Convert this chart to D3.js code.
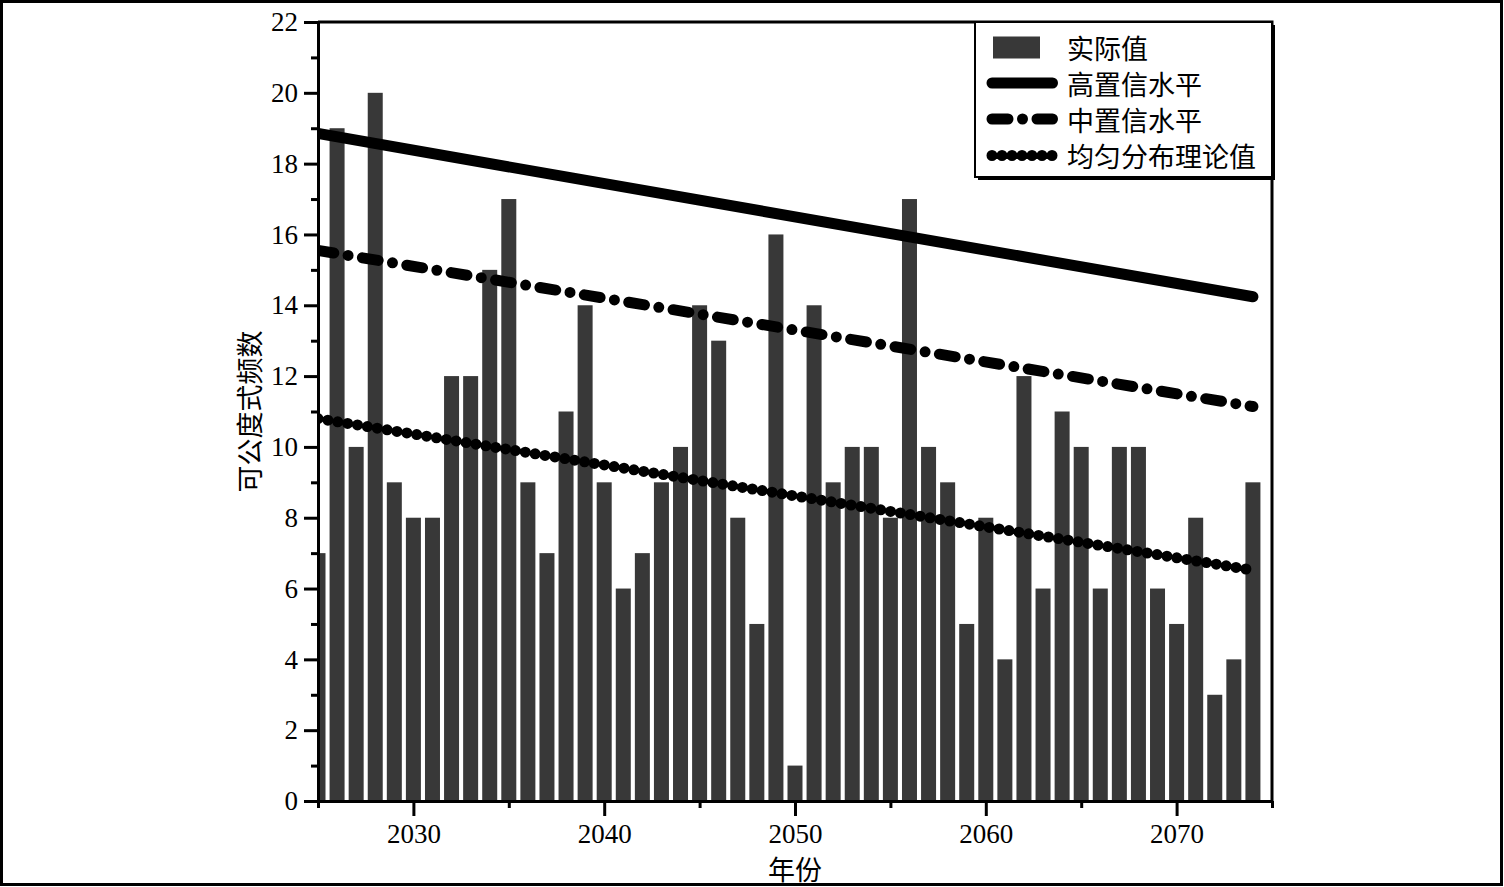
<!DOCTYPE html>
<html>
<head>
<meta charset="utf-8">
<script src="https://cdn.jsdelivr.net/npm/d3@7"></script>
<style>
  body { margin: 0; background: #fff; }
  text { font-family: "Liberation Serif", "Noto Sans CJK SC", serif; fill: #000; }
  .cjk { font-family: "Noto Sans CJK SC", sans-serif; }
</style>
</head>
<body>
<div id="chart"></div>
<script>
// DATA
const years = d3.range(2025, 2075);
const counts = [7, 19, 10, 20, 9, 8, 8, 12, 12, 15,
                17, 9, 7, 11, 14, 9, 6, 7, 9, 10,
                14, 13, 8, 5, 16, 1, 14, 9, 10, 10,
                8, 17, 10, 9, 5, 8, 4, 12, 6, 11,
                10, 6, 10, 10, 6, 5, 8, 3, 4, 9];
const lineYears = [2025, 2074];
const highLevel = [18.85, 14.24];
const midLevel = [15.55, 11.14];
const uniformLevel = [10.8, 6.52];
const yTicks = d3.range(0, 23, 2);
const yMinor = d3.range(1, 23, 2);
const xTicks = [2030, 2040, 2050, 2060, 2070];
const xMinor = [2025, 2035, 2045, 2055, 2065, 2075];
const legendLabels = ["实际值", "高置信水平", "中置信水平", "均匀分布理论值"];

const W = 1504, H = 887;
const margin = { top: 22, right: 232, bottom: 86, left: 318 };
const barColor = "#383838";

const svg = d3.select("#chart").append("svg")
    .attr("width", W)
    .attr("height", H);

// outer frame
svg.append("rect")
    .attr("x", 1.5).attr("y", 1.5)
    .attr("width", W - 4).attr("height", H - 4)
    .attr("fill", "#fff")
    .attr("stroke", "#000")
    .attr("stroke-width", 3);

const x = d3.scaleLinear().domain([2025, 2075]).range([margin.left, W - margin.right]);
const y = d3.scaleLinear().domain([0, 22]).range([H - margin.bottom, margin.top]);

svg.append("clipPath").attr("id", "plot-clip")
    .append("rect")
    .attr("x", x(2025)).attr("y", y(22))
    .attr("width", x(2075) - x(2025)).attr("height", y(0) - y(22));

const plot = svg.append("g").attr("clip-path", "url(#plot-clip)");

// bars
const barW = 15;
plot.selectAll("rect.bar")
    .data(years.map((yr, i) => ({ year: yr, value: counts[i] })))
    .join("rect")
    .attr("class", "bar")
    .attr("x", d => x(d.year) - barW / 2)
    .attr("y", d => y(d.value))
    .attr("width", barW)
    .attr("height", d => y(0) - y(d.value))
    .attr("fill", barColor);

// reference lines
const line = d3.line().x(d => x(d[0])).y(d => y(d[1]));
const series = [
    { vals: highLevel, dash: null },
    { vals: midLevel, dash: "16,14.5,0,14.5" },
    { vals: uniformLevel, dash: "0,10" }
];
series.forEach(s => {
    plot.append("path")
        .datum(lineYears.map((yr, i) => [yr, s.vals[i]]))
        .attr("d", line)
        .attr("fill", "none")
        .attr("stroke", "#000")
        .attr("stroke-width", 11)
        .attr("stroke-linecap", "round")
        .attr("stroke-dasharray", s.dash);
});

// axes
function styleAxis(g) {
    g.selectAll("path.domain").attr("stroke-width", 3);
    g.selectAll(".tick line").attr("stroke-width", 3);
    g.selectAll(".tick text").attr("font-size", 27).attr("font-family", "Liberation Serif");
}

svg.append("g")
    .attr("transform", `translate(${x(2025)},0)`)
    .call(d3.axisLeft(y).tickValues(yMinor).tickSize(7).tickSizeOuter(0).tickFormat(""))
    .call(styleAxis);
svg.append("g")
    .attr("transform", `translate(${x(2025)},0)`)
    .call(d3.axisLeft(y).tickValues(yTicks).tickSize(14).tickSizeOuter(0).tickPadding(6))
    .call(styleAxis);

svg.append("g")
    .attr("transform", `translate(0,${y(0)})`)
    .call(d3.axisBottom(x).tickValues(xMinor).tickSize(7).tickSizeOuter(0).tickFormat(""))
    .call(styleAxis);
svg.append("g")
    .attr("transform", `translate(0,${y(0)})`)
    .call(d3.axisBottom(x).tickValues(xTicks).tickSize(15).tickSizeOuter(0).tickPadding(8).tickFormat(d3.format("d")))
    .call(styleAxis);

// top and right frame
svg.append("path")
    .attr("d", `M${x(2025)},${y(22)}H${x(2075)}V${y(0)}`)
    .attr("fill", "none")
    .attr("stroke", "#000")
    .attr("stroke-width", 3);

// axis titles
svg.append("text")
    .attr("class", "cjk")
    .attr("transform", `translate(248,${(y(0) + y(22)) / 2}) rotate(-90)`)
    .attr("text-anchor", "middle")
    .attr("dominant-baseline", "central")
    .attr("font-size", 27)
    .text("可公度式频数");

svg.append("text")
    .attr("class", "cjk")
    .attr("x", (x(2025) + x(2075)) / 2)
    .attr("y", 868)
    .attr("text-anchor", "middle")
    .attr("dominant-baseline", "central")
    .attr("font-size", 27)
    .text("年份");

// legend
const lg = svg.append("g");
const lx = 975, ly = 22, lw = 297, lh = 155;
lg.append("rect")
    .attr("x", lx + 3).attr("y", ly + 3)
    .attr("width", lw).attr("height", lh)
    .attr("fill", "#000");
lg.append("rect")
    .attr("x", lx).attr("y", ly)
    .attr("width", lw).attr("height", lh)
    .attr("fill", "#fff")
    .attr("stroke", "#000")
    .attr("stroke-width", 2);

const rowY = [47.5, 83, 119, 155.5];
lg.append("rect")
    .attr("x", 993).attr("y", rowY[0] - 11)
    .attr("width", 47).attr("height", 22)
    .attr("fill", barColor);
series.forEach((s, i) => {
    lg.append("path")
        .attr("d", `M992,${rowY[i + 1]}H1052.5`)
        .attr("stroke", "#000")
        .attr("stroke-width", 11)
        .attr("stroke-linecap", "round")
        .attr("stroke-dasharray", s.dash);
});
lg.selectAll("text.leg")
    .data(legendLabels)
    .join("text")
    .attr("class", "leg cjk")
    .attr("x", 1067)
    .attr("y", (d, i) => rowY[i])
    .attr("dominant-baseline", "central")
    .attr("font-size", 27)
    .text(d => d);
</script>
</body>
</html>
